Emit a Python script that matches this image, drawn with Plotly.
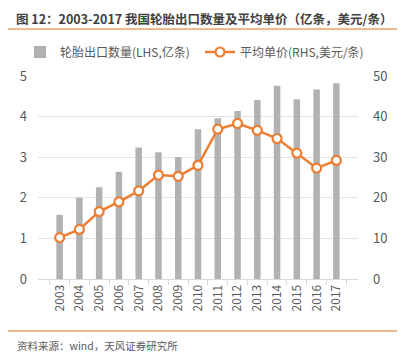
import plotly.graph_objects as go

years = ["2003", "2004", "2005", "2006", "2007", "2008", "2009", "2010",
         "2011", "2012", "2013", "2014", "2015", "2016", "2017"]
volume = [1.58, 2.00, 2.26, 2.64, 3.24, 3.12, 3.00, 3.69,
          3.96, 4.14, 4.41, 4.76, 4.43, 4.67, 4.82]
price = [10.2, 12.2, 16.6, 19.0, 21.7, 25.6, 25.3, 28.0,
         36.9, 38.3, 36.6, 34.6, 31.0, 27.3, 29.2]

left_ticks = [0, 1, 2, 3, 4, 5]
right_ticks = [0, 10, 20, 30, 40, 50]

FONT = "Noto Sans CJK SC"
GREY = "#595959"
ORANGE = "#ED7D31"

# page offset (default body margin of the html page)
OFF = 8
FW, FH = 405 - OFF, 357 - OFF

# plot area in page pixels
L, R, T, B = 38, 358, 76, 279
W, H = R - L, B - T


def px_x(x):
    return (x - L) / W


def px_y(y):
    return (B - y) / H


fig = go.Figure()
fig.add_trace(go.Bar(
    x=years, y=volume, name="轮胎出口数量(LHS,亿条)",
    marker=dict(color="#B2B2B2", line=dict(width=0)), yaxis="y",
    legend="legend",
))
fig.add_trace(go.Scatter(
    x=years, y=price, name="平均单价(RHS,美元/条)", yaxis="y2",
    mode="lines+markers",
    line=dict(color=ORANGE, width=2.5),
    marker=dict(size=9, color="white", line=dict(color=ORANGE, width=2.2)),
    legend="legend2",
))

legend_common = dict(orientation="h", yanchor="middle", xanchor="left",
                     font=dict(size=12, color=GREY, family=FONT),
                     bgcolor="rgba(0,0,0,0)", itemwidth=30,
                     tracegroupgap=0)

fig.update_layout(
    width=FW, height=FH,
    margin=dict(l=L - OFF, r=405 - R, t=T - OFF, b=357 - B, autoexpand=False),
    paper_bgcolor="white", plot_bgcolor="white",
    font=dict(family=FONT, color=GREY, size=12),
    bargap=0.67,
    showlegend=True,
    legend=dict(x=px_x(20), y=px_y(52), **legend_common),
    legend2=dict(x=px_x(200), y=px_y(52), **legend_common),
    xaxis=dict(type="category", tickangle=-90, tickfont=dict(size=12, color=GREY),
               showline=True, linecolor="#D9D9D9", linewidth=1,
               ticks="outside", tickson="boundaries", ticklen=5, tickcolor="#D9D9D9",
               showgrid=False),
    yaxis=dict(range=[0, 5], tickvals=left_ticks, showgrid=True, gridcolor="#E3E3E3",
               gridwidth=1, zeroline=False, tickfont=dict(size=13, color=GREY),
               ticks="", ticklabelstandoff=10),
    yaxis2=dict(range=[0, 50], tickvals=right_ticks, overlaying="y", side="right",
                showgrid=False, zeroline=False, tickfont=dict(size=13, color=GREY),
                ticklabelstandoff=14),
)

fig.add_annotation(text="<b>图 12：2003-2017 我国轮胎出口数量及平均单价（亿条，美元/条）</b>",
                   xref="paper", yref="paper", x=px_x(15), y=px_y(OFF),
                   yanchor="top", xanchor="left", showarrow=False, borderpad=0,
                   font=dict(size=12.5, color="#404040", family=FONT))
fig.add_annotation(text="资料来源：wind，天风证券研究所",
                   xref="paper", yref="paper", x=px_x(15), y=px_y(345),
                   xanchor="left", yanchor="middle", showarrow=False,
                   font=dict(size=10.5, color="#595959", family=FONT))
for py in (29, 331):
    fig.add_shape(type="line", xref="paper", yref="paper",
                  x0=px_x(8), x1=px_x(401), y0=px_y(py), y1=px_y(py),
                  line=dict(color="#F0A060", width=1.5))

fig.write_html("out.html")
